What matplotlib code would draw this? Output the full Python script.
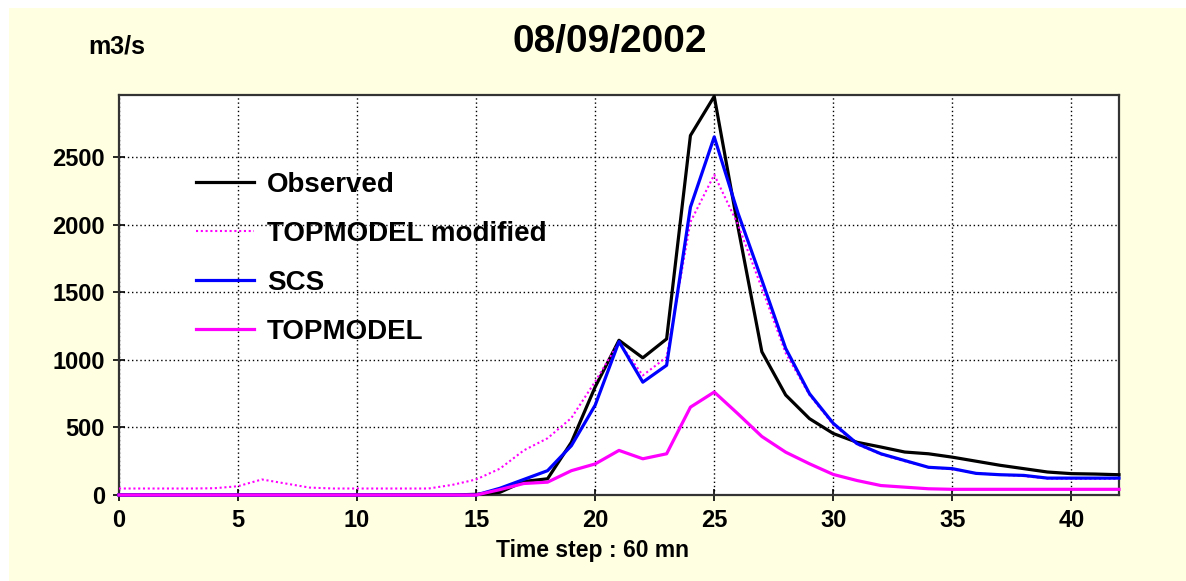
import matplotlib
matplotlib.use('Agg')
import matplotlib.pyplot as plt
from matplotlib.patches import Rectangle

# hourly time steps
steps = list(range(43))

observed = [0, 0, 0, 0, 0, 0, 0, 0, 0, 0, 0, 0, 0, 0, 0, 5,
            20, 100, 120, 390, 800, 1145, 1015, 1155, 2660, 2950, 1980, 1060,
            740, 565, 455, 390, 355, 318, 305, 280, 250, 220, 195, 170, 158, 155, 150]
topmodel_mod = [48, 48, 48, 48, 50, 65, 115, 85, 55, 48, 48, 48, 48, 48, 75, 115,
                195, 330, 420, 570, 840, 1130, 885, 1020, 2020, 2370, 2000, 1530,
                1050, 740, 520, 375, 300, 250, 205, 190, 160, 150, 140, 122, 120, 120, 120]
scs = [0, 0, 0, 0, 0, 0, 0, 0, 0, 0, 0, 0, 0, 0, 0, 0,
       50, 115, 180, 365, 665, 1135, 835, 960, 2130, 2650, 2085, 1590,
       1085, 750, 530, 380, 305, 255, 205, 195, 160, 150, 145, 125, 125, 125, 125]
topmodel = [0, 0, 0, 0, 0, 0, 0, 0, 0, 0, 0, 0, 0, 0, 0, 0,
            40, 85, 95, 180, 230, 330, 268, 305, 650, 762, 600, 433,
            317, 231, 152, 107, 70, 58, 46, 42, 42, 42, 42, 42, 42, 42, 42]

bg = '#ffffe1'
font = 'Liberation Sans'

fig = plt.figure(figsize=(11.86, 5.81), dpi=100)
fig.patch.set_facecolor('white')
fig.patches.append(Rectangle((9 / 1186, 0), 1, 1 - 8 / 581, transform=fig.transFigure,
                             facecolor=bg, edgecolor='none', zorder=-10))

ax = fig.add_axes([119 / 1186, 86 / 581, 1000 / 1186, 400 / 581])
ax.set_facecolor('white')

ax.plot(steps, observed, color='black', lw=2.3, label='Observed', clip_on=False, zorder=3)
ax.plot(steps, topmodel_mod, color='#ff00ff', lw=1.5, ls=(0, (1, 1.3)),
        label='TOPMODEL modified', clip_on=False, zorder=4)
ax.plot(steps, scs, color='#0000ff', lw=2.3, label='SCS', clip_on=False, zorder=5)
ax.plot(steps, topmodel, color='#ff00ff', lw=2.3, label='TOPMODEL', clip_on=False, zorder=6)

ax.set_xlim(0, 42)
ax.set_ylim(0, 2960)
ax.set_xticks(range(0, 41, 5))
ax.set_yticks(range(0, 2501, 500))
ax.grid(True, color='black', ls=(0, (1, 2)), lw=1)
ax.tick_params(direction='inout', length=8, width=1.2, pad=6, labelsize=17)
for lab in ax.get_xticklabels() + ax.get_yticklabels():
    lab.set_fontfamily(font)
    lab.set_fontweight('bold')
for sp in ax.spines.values():
    sp.set_color('#333333')
    sp.set_linewidth(1.6)

leg = ax.legend(loc='upper left', bbox_to_anchor=(0.052, 0.87), frameon=False,
                prop={'family': font, 'weight': 'bold', 'size': 20},
                handlelength=2.1, handletextpad=0.45, labelspacing=0.83)

fig.text(610 / 1186, 1 - 42 / 581, '08/09/2002', ha='center', va='center',
         fontfamily=font, fontweight='bold', fontsize=28)
fig.text(117 / 1186, 1 - 47 / 581, 'm3/s', ha='center', va='center',
         fontfamily=font, fontweight='bold', fontsize=18)
fig.text(593 / 1186, 1 - 550 / 581, 'Time step : 60 mn', ha='center', va='center',
         fontfamily=font, fontweight='bold', fontsize=16.5)

fig.savefig('out.png', dpi=100, facecolor=fig.get_facecolor())
